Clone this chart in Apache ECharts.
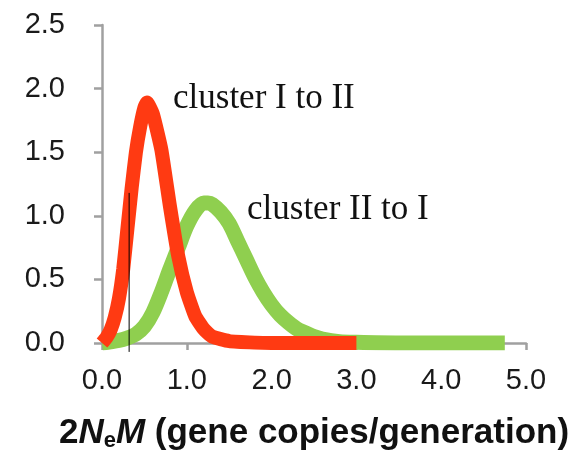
<!DOCTYPE html>
<html>
<head>
<meta charset="utf-8">
<script src="https://cdn.jsdelivr.net/npm/echarts@6/dist/echarts.min.js"></script>
<style>
  html, body { margin: 0; padding: 0; background: #fff; }
  #chart { width: 585px; height: 453px; }
</style>
</head>
<body>
<div id="chart"></div>
<script>
// 2NeM posterior curves
var clusterOneToTwo = [
  [0.0, 0.0], [0.05, 0.04], [0.1, 0.1], [0.15, 0.2], [0.2, 0.35], [0.25, 0.58],
  [0.3, 0.9], [0.35, 1.22], [0.4, 1.5], [0.45, 1.7], [0.5, 1.85], [0.53, 1.89],
  [0.6, 1.8], [0.7, 1.52], [0.8, 1.08], [0.9, 0.68], [1.0, 0.4], [1.1, 0.21],
  [1.2, 0.11], [1.3, 0.05], [1.5, 0.015], [1.8, 0.003], [2.0, 0.0], [3.0, 0.0]
];
var clusterTwoToOne = [
  [0.0, 0.0], [0.2, 0.02], [0.3, 0.04], [0.4, 0.07], [0.5, 0.13], [0.6, 0.24],
  [0.7, 0.4], [0.8, 0.58], [0.9, 0.75], [1.0, 0.92], [1.1, 1.04], [1.2, 1.1],
  [1.25, 1.1], [1.3, 1.09], [1.4, 1.03], [1.5, 0.94], [1.6, 0.8], [1.7, 0.66],
  [1.8, 0.52], [1.9, 0.4], [2.0, 0.3], [2.1, 0.22], [2.2, 0.16], [2.3, 0.11],
  [2.4, 0.08], [2.5, 0.05], [2.6, 0.03], [2.8, 0.01], [3.0, 0.005], [3.5, 0.0],
  [4.75, 0.0]
];
var markerLine = [[0.32, -0.07], [0.32, 1.18]];
var xTicks = [0, 5, 1];   // min, max, interval
var yTicks = [0, 2.5, 0.5];

var axisGrey = '#a0a0a0';
var tickFont = { fontFamily: 'Liberation Sans, Arial, sans-serif', fontSize: 29, color: '#1a1a1a' };
var nameFont = 'Liberation Sans, Arial, sans-serif';

var option = {
  animation: false,
  backgroundColor: '#fff',
  grid: { left: 102, right: 59, top: 25, bottom: 110, containLabel: false, outerBoundsMode: 'none' },
  xAxis: {
    type: 'value',
    min: xTicks[0], max: xTicks[1], interval: xTicks[2],
    axisLine: { lineStyle: { color: axisGrey, width: 2.5 } },
    axisTick: { show: true, inside: false, length: 7, lineStyle: { color: axisGrey, width: 2.5 } },
    splitLine: { show: false },
    axisLabel: Object.assign({ margin: 23, formatter: function (v) { return v.toFixed(1); } }, tickFont),
    name: '{b|2}{bi|N}{sub|e}{bi|M}{b| (gene copies/generation)}',
    nameLocation: 'middle',
    nameGap: 71,
    nameTextStyle: {
      rich: {
        b: { fontFamily: nameFont, fontWeight: 'bold', fontSize: 35, color: '#111' },
        bi: { fontFamily: nameFont, fontWeight: 'bold', fontStyle: 'italic', fontSize: 35, color: '#111' },
        sub: { fontFamily: nameFont, fontWeight: 'bold', fontSize: 22, color: '#111', verticalAlign: 'bottom', padding: [16, 0, 0, 0] }
      }
    }
  },
  yAxis: {
    type: 'value',
    min: yTicks[0], max: yTicks[1], interval: yTicks[2],
    axisLine: { show: true, lineStyle: { color: axisGrey, width: 2.5 } },
    axisTick: { show: true, inside: false, length: 8, lineStyle: { color: axisGrey, width: 2.5 } },
    splitLine: { show: false },
    axisLabel: Object.assign({ margin: 37, formatter: function (v) { return v.toFixed(1); } }, tickFont)
  },
  graphic: [
    { type: 'text', left: 173, top: 81, style: { text: 'cluster I to II', font: '35px "Liberation Serif", "Times New Roman", serif', fill: '#111' } },
    { type: 'text', left: 247, top: 192, style: { text: 'cluster II to I', font: '35px "Liberation Serif", "Times New Roman", serif', fill: '#111' } }
  ],
  series: [
    {
      name: 'cluster II to I',
      type: 'line',
      data: clusterTwoToOne,
      smooth: 0.3,
      showSymbol: false,
      lineStyle: { color: '#8fcf4f', width: 15, cap: 'butt' },
      z: 3
    },
    {
      name: 'cluster I to II',
      type: 'line',
      data: clusterOneToTwo,
      smooth: 0.15,
      showSymbol: false,
      lineStyle: { color: '#ff3a12', width: 14, cap: 'butt' },
      z: 4
    },
    {
      name: 'marker',
      type: 'line',
      data: markerLine,
      clip: false,
      showSymbol: false,
      lineStyle: { color: '#000', width: 1 },
      z: 5
    }
  ]
};

var myChart = echarts.init(document.getElementById('chart'));
myChart.setOption(option, true);
</script>
</body>
</html>
